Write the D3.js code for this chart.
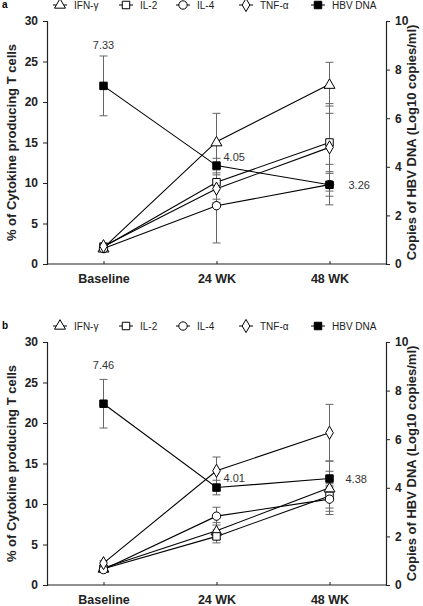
<!DOCTYPE html>
<html><head><meta charset="utf-8">
<script src="https://cdn.jsdelivr.net/npm/d3@7"></script>
<style>body{margin:0;background:#fff}svg{display:block;font-family:"Liberation Sans",Arial,sans-serif}</style>
</head><body><svg id="c" width="423" height="606"></svg>
<script>
const categories = ["Baseline", "24 WK", "48 WK"];
const seriesNames = ["IFN-γ", "IL-2", "IL-4", "TNF-α", "HBV DNA"];
const seriesShapes = ["triangle", "square", "circle", "diamond", "filled"];
const leftTicks = [0, 5, 10, 15, 20, 25, 30];
const rightTicks = [0, 2, 4, 6, 8, 10];

// Panel a
const aIFN = [2.0, 15.1, 22.2],  aIFNErr = [0.4, 3.5, 2.7];
const aIL2 = [2.1, 10.1, 15.0],  aIL2Err = [0.5, 2.1, 3.6];
const aIL4 = [1.9, 7.2, 9.8],    aIL4Err = [0.4, 4.6, 2.5];
const aTNF = [2.2, 9.3, 14.4],   aTNFErr = [0.4, 1.7, 5.4];
const aDNA = [7.33, 4.05, 3.26], aDNAErr = [1.23, 0.3, 0.47];
const aLabels = ["7.33", "4.05", "3.26"];

// Panel b
const bIFN = [2.1, 6.7, 12.0],   bIFNErr = [0.3, 1.0, 3.3];
const bIL2 = [2.0, 6.0, 11.0],   bIL2Err = [0.3, 0.8, 1.5];
const bIL4 = [1.9, 8.5, 10.6],   bIL4Err = [0.3, 1.1, 1.5];
const bTNF = [2.7, 14.1, 18.8],  bTNFErr = [0.3, 1.7, 3.5];
const bDNA = [7.46, 4.01, 4.38], bDNAErr = [1.0, 0.3, 0.3];
const bLabels = ["7.46", "4.01", "4.38"];

const svg = d3.select("#c");

function symbolPath(shape) {
  if (shape === "triangle") return d3.symbol(d3.symbolTriangle, 52)();
  if (shape === "square" || shape === "filled") return d3.symbol(d3.symbolSquare, 56)();
  if (shape === "circle") return d3.symbol(d3.symbolCircle, 55)();
  return d3.symbol(d3.symbolDiamond, 50)();
}

function drawPanel(top, letter, series, errs, dna, dnaErr, labels, labelPos) {
  const g = svg.append("g");
  const x0 = 47, x1 = 386, y0 = top + 243, y1 = top;
  const x = d3.scalePoint().domain(categories).range([x0, x1]).padding(0.5);
  const yL = d3.scaleLinear().domain([0, 30]).range([y0, y1]);
  const yR = d3.scaleLinear().domain([0, 10]).range([y0, y1]);

  // panel letter
  g.append("text").attr("x", 2).attr("y", top - 13).attr("font-size", 10).attr("font-weight", "bold").text(letter);

  // legend
  const legX = [60, 126, 183, 246, 318];
  seriesNames.forEach((n, i) => {
    const ly = top - 16;
    g.append("line").attr("x1", legX[i] - 7).attr("x2", legX[i] + 7).attr("y1", ly).attr("y2", ly).attr("stroke", "#000").attr("stroke-width", 1);
    g.append("path").attr("d", symbolPath(seriesShapes[i])).attr("transform", `translate(${legX[i]},${ly})`)
      .attr("fill", seriesShapes[i] === "filled" ? "#000" : "#fff").attr("stroke", "#000").attr("stroke-width", 1);
    g.append("text").attr("x", legX[i] + 14).attr("y", ly + 4).attr("font-size", 10).attr("fill", "#222").text(n);
  });

  // axes
  const axL = g.append("g").attr("transform", `translate(${x0},0)`).call(d3.axisLeft(yL).tickValues(leftTicks).tickSize(4).tickPadding(5));
  const axR = g.append("g").attr("transform", `translate(${x1},0)`).call(d3.axisRight(yR).tickValues(rightTicks).tickSize(4).tickPadding(5));
  const axB = g.append("g").attr("transform", `translate(0,${y0})`).call(d3.axisBottom(x).tickSize(-3).tickPadding(10));
  [axL, axR, axB].forEach(a => {
    a.select(".domain").attr("stroke", "#222").attr("stroke-width", 1.2);
    a.selectAll(".tick line").attr("stroke", "#222");
    a.selectAll("text").attr("font-size", 12).attr("font-weight", "bold").attr("fill", "#222").attr("font-family", "Liberation Sans, Arial, sans-serif");
  });
  axB.select(".domain").attr("d", `M${x0},0H${x1}`);
  axB.selectAll("text").attr("font-size", 12.5);

  // axis titles
  g.append("text").attr("transform", `translate(16,${(y0 + y1) / 2}) rotate(-90)`).attr("text-anchor", "middle")
    .attr("font-size", 13).attr("font-weight", "bold").attr("fill", "#222").text("% of Cytokine producing T cells");
  g.append("text").attr("transform", `translate(416,${(y0 + y1) / 2}) rotate(-90)`).attr("text-anchor", "middle")
    .attr("font-size", 13).attr("font-weight", "bold").attr("fill", "#222").text("Copies of HBV DNA (Log10 copies/ml)");

  const all = series.map((s, i) => ({ vals: s, errs: errs[i], scale: yL, shape: seriesShapes[i] }));
  all.push({ vals: dna, errs: dnaErr, scale: yR, shape: "filled" });

  // error bars
  all.forEach(s => {
    s.vals.forEach((v, j) => {
      const cx = x(categories[j]);
      const yt = s.scale(v + s.errs[j]), yb = s.scale(v - s.errs[j]);
      g.append("line").attr("x1", cx).attr("x2", cx).attr("y1", yt).attr("y2", yb).attr("stroke", "#666").attr("stroke-width", 1);
      [yt, yb].forEach(yy => g.append("line").attr("x1", cx - 4).attr("x2", cx + 4).attr("y1", yy).attr("y2", yy).attr("stroke", "#666").attr("stroke-width", 1));
    });
  });

  // lines
  all.forEach(s => {
    const line = d3.line().x((d, j) => x(categories[j])).y(d => s.scale(d));
    g.append("path").attr("d", line(s.vals)).attr("fill", "none").attr("stroke", "#000").attr("stroke-width", 1.1);
  });

  // markers
  all.forEach(s => {
    s.vals.forEach((v, j) => {
      g.append("path").attr("d", symbolPath(s.shape)).attr("transform", `translate(${x(categories[j])},${s.scale(v) + (s.shape === "triangle" ? 1 : 0)})`)
        .attr("fill", s.shape === "filled" ? "#000" : "#fff").attr("stroke", "#000").attr("stroke-width", 1);
    });
  });

  // DNA labels
  labels.forEach((t, j) => {
    const p = labelPos[j];
    g.append("text").attr("x", x(categories[j]) + p[0]).attr("y", yR(dna[j]) + p[1]).attr("text-anchor", p[2])
      .attr("font-size", 11).attr("fill", "#333").text(t);
  });
}

drawPanel(21, "a", [aIFN, aIL2, aIL4, aTNF], [aIFNErr, aIL2Err, aIL4Err, aTNFErr], aDNA, aDNAErr, aLabels,
  [[0, -37, "middle"], [7, -5, "start"], [19, 4, "start"]]);
drawPanel(342, "b", [bIFN, bIL2, bIL4, bTNF], [bIFNErr, bIL2Err, bIL4Err, bTNFErr], bDNA, bDNAErr, bLabels,
  [[0, -35, "middle"], [7, -6, "start"], [16, 4, "start"]]);
</script></body></html>
